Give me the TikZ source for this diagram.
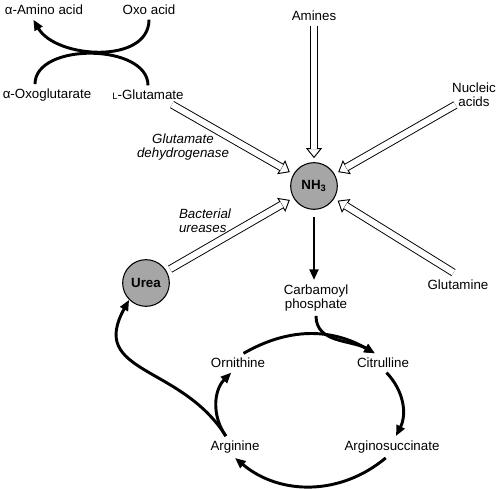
\documentclass[tikz,border=0pt]{standalone}
\usepackage{fontspec}
\setmainfont{Liberation Sans}
\usetikzlibrary{arrows.meta}
% open arrow: white head first, then the double shaft over its base
\newcommand\supply[3][]{%
  \draw[supplyhead,#1] (#2) -- (#3);
  \draw[supplyshaft,#1] (#2) -- (#3);}
\begin{document}
\begin{tikzpicture}[x=0.75pt,y=0.75pt,
  font=\fontsize{10}{10.5}\selectfont,
  pool/.style={circle,draw,line width=0.8pt,fill=black!35,minimum size=35pt,inner sep=0pt,font=\fontsize{10}{10.5}\selectfont\bfseries},
  enzyme/.style={font=\fontsize{10}{10.5}\selectfont\itshape},
  supplyhead/.style={line width=0.7pt,shorten >=3pt,-{Triangle[fill=white,length=7.5pt,width=12pt]}},
  supplyshaft/.style={double,double distance=4.6pt,line width=0.7pt,shorten >=10pt},
  flow/.style={line width=2.2pt,-{Triangle[length=8pt,width=6.5pt]}}]
\useasboundingbox (0,0) rectangle (500,489);
% transamination
\node (amino) at (44,479) {α-Amino acid};
\node (oxo) at (149,479) {Oxo acid};
\node (oxoglut) at (47,394) {α-Oxoglutarate};
\node (glu) at (148,394) {{\fontsize{7}{8}\selectfont L}-Glutamate};
\draw[flow] (oxo.south) to[out=-90,in=-60] ([xshift=-8pt]amino.south);
\draw[line width=2.2pt] ([xshift=-9pt]oxoglut.north) to[out=90,in=90,looseness=0.95] (glu.north);
% sources of ammonia
\node[pool] (nh3) at (314,303) {NH\textsubscript{3}};
\node[pool] (urea) at (146,206) {Urea};
\node (amines) at (314,473) {Amines};
\node[align=center] (nuc) at (474,394) {Nucleic\\acids};
\node (glutamine) at (458,204) {Glutamine};
\node[enzyme,align=center] (gdh) at (183,342) {Glutamate\\dehydrogenase};
\node[enzyme,align=left] (bact) at (205,268) {Bacterial\\ureases};
\supply{amines.south}{nh3}
\supply{[shift={(6pt,5pt)}]nuc.south west}{nh3}
\supply[shorten <=4pt]{glutamine.north}{nh3}
\supply{[xshift=18pt]glu.south}{nh3}
\supply[shorten <=3pt]{urea}{nh3}
% urea cycle
\node[align=center] (carb) at (316,191) {Carbamoyl\\phosphate};
\node (orn) at (238,126) {Ornithine};
\node (cit) at (383,126) {Citrulline};
\node (args) at (392,42) {Arginosuccinate};
\node (arg) at (235,42) {Arginine};
\draw[flow,shorten <=5.5pt] (nh3.south) -- (nh3.south |- carb.north);
\draw[flow] (orn.60) to[bend left=30] (cit.130);
\draw[flow] (carb.south) to[out=-90,in=150] (cit.130);
\draw[flow] (cit.-70) to[bend left=35] (args.70);
\draw[flow] (args.-120) to[bend left=40] (arg.south);
\draw[flow] (arg.130) to[bend left=40] (orn.-125);
\draw[flow] (arg.130) to[out=122,in=-119,looseness=1.3] (urea.-135);
\end{tikzpicture}
\end{document}
